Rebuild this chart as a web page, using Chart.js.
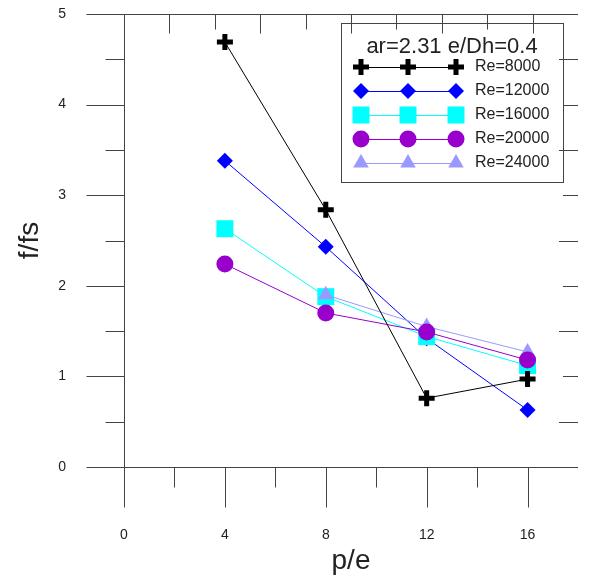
<!DOCTYPE html>
<html>
<head>
<meta charset="utf-8">
<script src="https://cdn.jsdelivr.net/npm/chart.js@4/dist/chart.umd.min.js"></script>
<style>
  html, body { margin: 0; padding: 0; background: #fff; }
  canvas { display: block; }
</style>
</head>
<body>
<canvas id="chart" width="594" height="581"></canvas>
<script>
const xValues = [4, 8, 12, 16];
const seriesNames = ["Re=8000", "Re=12000", "Re=16000", "Re=20000", "Re=24000"];
const re8000 = [4.69, 2.84, 0.76, 0.97];
const re12000 = [3.38, 2.43, 1.42, 0.63];
const re16000 = [2.63, 1.88, 1.44, 1.12];
const re20000 = [2.24, 1.70, 1.49, 1.18];
const re24000 = [null, 1.90, 1.55, 1.27];
const xTickLabels = [0, 4, 8, 12, 16];
const yTickLabels = [0, 1, 2, 3, 4, 5];
const legendTitle = "ar=2.31 e/Dh=0.4";

const FONT = "'Liberation Sans', Arial, Helvetica, sans-serif";
const TEXT = "#222";

// marker look per series, same order as seriesNames
const STYLES = [
  { color: "#000000", pointStyle: "cross", radius: 8, borderWidth: 5, order: 1 },
  { color: "#0000ff", pointStyle: "rectRot", radius: 8, borderWidth: 0, order: 5 },
  { color: "#00ffff", pointStyle: "rect", radius: 12, borderWidth: 0, order: 4 },
  { color: "#9900cc", pointStyle: "circle", radius: 8.5, borderWidth: 0, order: 2 },
  { color: "#9999ff", pointStyle: "triangle", radius: 9, borderWidth: 0, order: 3 },
];

function toPoints(vals) {
  return xValues
    .map((x, i) => ({ x, y: vals[i] }))
    .filter((p) => p.y !== null);
}

const allSeries = [re8000, re12000, re16000, re20000, re24000];

const datasets = allSeries.map((vals, i) => {
  const s = STYLES[i];
  return {
    label: seriesNames[i],
    data: toPoints(vals),
    borderColor: s.color,
    backgroundColor: s.color,
    borderWidth: 1,
    pointStyle: s.pointStyle,
    pointRadius: s.radius,
    pointHoverRadius: s.radius,
    pointBorderWidth: s.borderWidth,
    pointBorderColor: s.color,
    pointBackgroundColor: s.color,
    order: s.order,
    tension: 0,
  };
});

// box, ticks on all four sides
const framePlugin = {
  id: "frame",
  beforeDatasetsDraw(chart) {
    const { ctx, chartArea: a, scales: { x, y } } = chart;
    const px = (v) => Math.round(x.getPixelForValue(v)) + 0.5;
    const py = (v) => Math.round(y.getPixelForValue(v)) + 0.5;
    const x0 = px(0);
    const y0 = py(0);
    const y5 = py(5);
    const xr = Math.round(a.right);

    ctx.save();
    ctx.strokeStyle = "#444";
    ctx.lineWidth = 1;
    ctx.beginPath();
    ctx.moveTo(x0 - 38, y5); ctx.lineTo(xr, y5);
    ctx.moveTo(x0 - 38, y0); ctx.lineTo(xr, y0);
    ctx.moveTo(x0, y5); ctx.lineTo(x0, y0 + 40);

    for (let v = 0.5; v < 5; v += 0.5) {
      const len = v % 1 === 0 ? 38 : 19;
      ctx.moveTo(x0 - len, py(v)); ctx.lineTo(x0, py(v));
      const rlen = v % 1 === 0 ? 15 : 19;
      ctx.moveTo(xr - rlen, py(v)); ctx.lineTo(xr, py(v));
    }
    for (let v = 2; v <= 16; v += 2) {
      const len = v % 4 === 0 ? 40 : 20;
      ctx.moveTo(px(v), y0); ctx.lineTo(px(v), y0 + len);
    }
    for (let k = 1; k < 10; k++) {
      const v = x.min + (x.max - x.min) * k / 10;
      const len = k % 2 === 1 ? 19 : 15;
      ctx.moveTo(px(v), y5); ctx.lineTo(px(v), y5 + len);
    }
    ctx.stroke();
    ctx.restore();
  },
};

// legend box with three markers per row
const legendPlugin = {
  id: "boxLegend",
  afterDraw(chart) {
    const { ctx } = chart;
    const left = 341.5, top = 23.5, w = 222, h = 159;
    ctx.save();
    ctx.strokeStyle = "#444";
    ctx.lineWidth = 1;
    ctx.strokeRect(left, top, w, h);

    ctx.fillStyle = TEXT;
    ctx.textAlign = "center";
    ctx.textBaseline = "middle";
    ctx.font = "22px " + FONT;
    ctx.fillText(legendTitle, 452, 47);

    const markX = [361, 408, 456];
    seriesNames.forEach((name, i) => {
      const s = STYLES[i];
      const ry = 67 + i * 24;
      ctx.strokeStyle = s.color;
      ctx.lineWidth = 1;
      ctx.beginPath();
      ctx.moveTo(markX[0], ry + 0.5);
      ctx.lineTo(markX[2], ry + 0.5);
      ctx.stroke();
      ctx.fillStyle = s.color;
      ctx.lineWidth = s.borderWidth;
      markX.forEach((mx) => {
        Chart.helpers.drawPoint(ctx, {
          pointStyle: s.pointStyle,
          radius: s.radius,
          borderWidth: s.borderWidth,
          rotation: 0,
        }, mx, ry);
      });
      ctx.fillStyle = TEXT;
      ctx.textAlign = "left";
      ctx.font = "16px " + FONT;
      ctx.fillText(name, 475, ry);
    });
    ctx.restore();
  },
};

// invisible tick marks push the labels away from the frame
const hiddenGrid = (len) => ({
  display: true,
  drawOnChartArea: false,
  drawTicks: true,
  tickLength: len,
  tickColor: "rgba(0,0,0,0)",
});

new Chart(document.getElementById("chart").getContext("2d"), {
  type: "line",
  data: { datasets },
  options: {
    responsive: false,
    animation: false,
    layout: { padding: { top: 14, right: 16, left: 0, bottom: 0 } },
    plugins: {
      legend: { display: false },
      tooltip: { enabled: false },
    },
    scales: {
      x: {
        type: "linear",
        min: 0,
        max: 18,
        afterFit: (s) => { s.height = 114; },
        grid: hiddenGrid(58),
        border: { display: false },
        ticks: {
          stepSize: 2,
          autoSkip: false,
          maxRotation: 0,
          padding: 2,
          color: TEXT,
          font: { family: FONT, size: 14 },
          callback: (v) => (xTickLabels.includes(v) ? String(v) : ""),
        },
        title: {
          display: true,
          text: "p/e",
          color: TEXT,
          font: { family: FONT, size: 28 },
          padding: { top: 0, bottom: 3 },
        },
      },
      y: {
        type: "linear",
        min: 0,
        max: 5,
        afterFit: (s) => { s.width = 124; },
        grid: hiddenGrid(56),
        border: { display: false },
        ticks: {
          stepSize: 0.5,
          autoSkip: false,
          padding: 2,
          color: TEXT,
          font: { family: FONT, size: 14 },
          callback: (v) => (yTickLabels.includes(v) ? String(v) : ""),
        },
        title: {
          display: true,
          text: "f/fs",
          color: TEXT,
          font: { family: FONT, size: 28 },
          padding: { top: 13, bottom: 0 },
        },
      },
    },
  },
  plugins: [framePlugin, legendPlugin],
});
</script>
</body>
</html>
